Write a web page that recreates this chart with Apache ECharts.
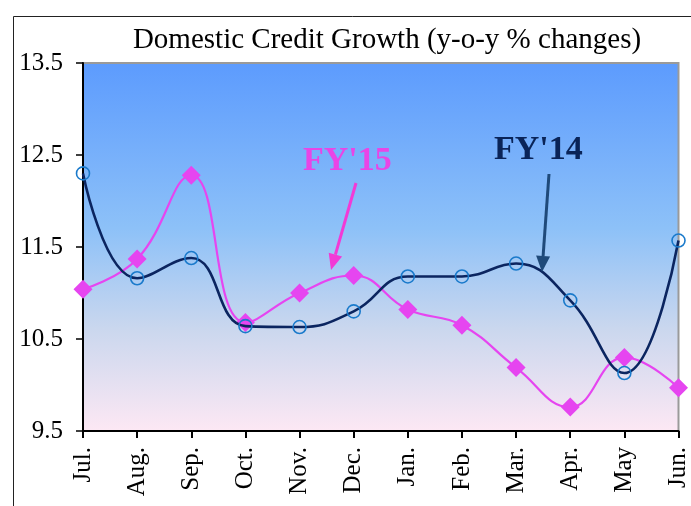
<!DOCTYPE html>
<html><head><meta charset="utf-8">
<script src="https://cdn.jsdelivr.net/npm/echarts@6/dist/echarts.min.js"></script>
<style>html,body{margin:0;padding:0;background:#fff}#c{width:691px;height:506px}</style>
</head><body><div id="c"></div>
<script>
const months = ['Jul.','Aug.','Sep.','Oct.','Nov.','Dec.','Jan.','Feb.','Mar.','Apr.','May','Jun.'];
const fy14 = [12.30,11.16,11.38,10.64,10.63,10.80,11.18,11.18,11.32,10.92,10.13,11.57];
const fy15 = [11.04,11.37,12.28,10.68,11.00,11.19,10.82,10.65,10.19,9.76,10.30,9.97];
const yTicks = [9.5,10.5,11.5,12.5,13.5];

const chart = echarts.init(document.getElementById('c'), null, {renderer:'canvas'});
const F = 'Liberation Serif, Times New Roman, serif';
chart.setOption({
  animation:false,
  backgroundColor:'#fff',
  title:{text:'Domestic Credit Growth (y-o-y % changes)', left:382, textAlign:'center', top:21,
    textStyle:{fontFamily:F, fontSize:29, fontWeight:'normal', color:'#000'}},
  grid:{left:83, right:10, top:63, bottom:75, show:true, borderColor:'#9a9a9a', borderWidth:2,
    backgroundColor:{type:'linear', x:0, y:0, x2:0, y2:1, colorStops:[
      {offset:0, color:'#5c9bfe'},{offset:0.45, color:'#8dc1f8'},{offset:0.72, color:'#cad7ee'},{offset:1, color:'#fde8f4'}]}},
  xAxis:{type:'category', data:months, boundaryGap:false,
    axisLine:{lineStyle:{color:'#000', width:2}},
    axisTick:{show:true, length:7, lineStyle:{color:'#000', width:2}},
    axisLabel:{rotate:90, fontFamily:F, fontSize:25, color:'#000', margin:16, interval:0, verticalAlign:'middle'},
    splitLine:{show:false}},
  yAxis:{type:'value', min:yTicks[0], max:yTicks[yTicks.length-1], interval:1,
    axisLine:{show:true, lineStyle:{color:'#000', width:2}},
    axisTick:{show:true, length:7, lineStyle:{color:'#000', width:1.5}},
    axisLabel:{fontFamily:F, fontSize:25, color:'#000', margin:20, formatter:v=>v.toFixed(1)},
    splitLine:{show:false}},
  series:[
    {name:"FY'15", type:'line', data:fy15, smooth:0.45, symbol:'diamond', symbolSize:19,
      lineStyle:{color:'#e645f0', width:2.2}, itemStyle:{color:'#e645f0'}, z:2},
    {name:"FY'14", type:'line', data:fy14, smooth:0.45, symbol:'circle', symbolSize:13,
      lineStyle:{color:'#0b2560', width:2.6},
      itemStyle:{color:'rgba(0,0,0,0)', borderColor:'#1a7acb', borderWidth:1.6}, z:3}
  ],
  graphic:[
    {type:'rect', shape:{x:13.5, y:16.5, width:720, height:520}, style:{fill:'none', stroke:'#222', lineWidth:1}, z:-10},
    {type:'text', left:303, top:144, style:{text:"FY'15", fontFamily:F, fontSize:34, fontWeight:'bold', fill:'#e945e6'}, z:10},
    {type:'line', shape:{x1:356, y1:183, x2:335.4, y2:254.6}, style:{stroke:'#f23ad6', lineWidth:3}, z:10},
    {type:'polygon', shape:{points:[[331,270],[342.1,256.5],[328.7,252.7]]}, style:{fill:'#f23ad6'}, z:10},
    {type:'text', left:494, top:133, style:{text:"FY'14", fontFamily:F, fontSize:34, fontWeight:'bold', fill:'#0a2458'}, z:10},
    {type:'line', shape:{x1:549, y1:174, x2:543.1, y2:256}, style:{stroke:'#1f4a7a', lineWidth:3}, z:10},
    {type:'polygon', shape:{points:[[542,272],[550.1,256.5],[536.1,255.5]]}, style:{fill:'#1f4a7a'}, z:10}
  ]
});
</script></body></html>
